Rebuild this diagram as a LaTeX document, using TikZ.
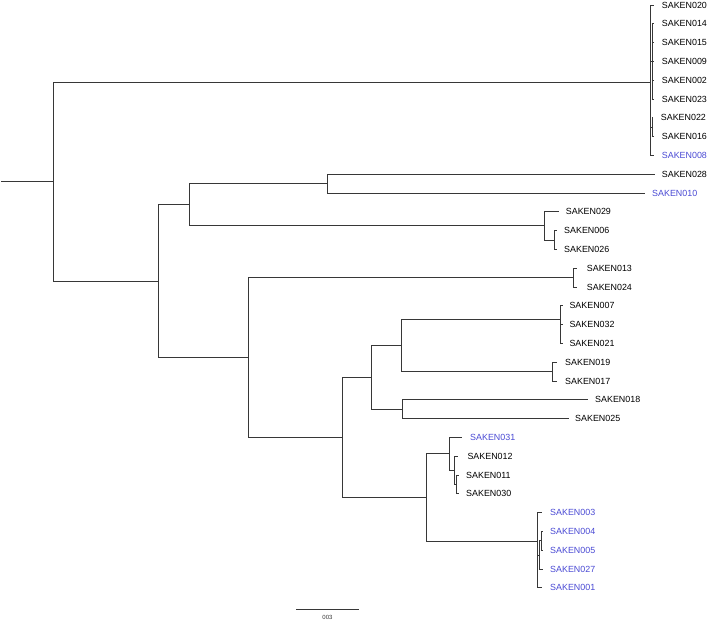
\documentclass[tikz,border=0pt]{standalone}
\usepackage{fontspec}
\setmainfont{Liberation Sans}
\definecolor{leafblue}{RGB}{74,74,212}
\definecolor{branch}{RGB}{55,55,55}
\begin{document}
\begin{tikzpicture}[x=1pt,y=-1pt,
  branchline/.style={draw=branch,line width=0.85pt},
  leaf/.style={anchor=west,inner sep=0pt,font=\fontsize{8.9}{10}\selectfont,text=black},
  blueleaf/.style={leaf,text=leafblue},
  scalelabel/.style={inner sep=0pt,font=\fontsize{6}{7}\selectfont,text=branch}]
\useasboundingbox (0,0) rectangle (709,622);

% ---------- leaf tips and labels ----------
\coordinate (t020) at (653.5,5.0);   \node[leaf] (l020) at (661.7,5.0)   {SAKEN020};
\coordinate (t014) at (653.5,23.8);  \node[leaf] (l014) at (661.7,23.8)  {SAKEN014};
\coordinate (t015) at (653.5,42.6);  \node[leaf] (l015) at (661.7,42.6)  {SAKEN015};
\coordinate (t009) at (653.5,61.4);  \node[leaf] (l009) at (661.7,61.4)  {SAKEN009};
\coordinate (t002) at (653.5,80.2);  \node[leaf] (l002) at (661.7,80.2)  {SAKEN002};
\coordinate (t023) at (653.5,99.0);  \node[leaf] (l023) at (661.7,99.0)  {SAKEN023};
\coordinate (t022) at (653.0,117.8); \node[leaf] (l022) at (660.7,117.8) {SAKEN022};
\coordinate (t016) at (653.5,136.6); \node[leaf] (l016) at (661.7,136.6) {SAKEN016};
\coordinate (t008) at (653.5,155.4); \node[blueleaf] (l008) at (661.7,155.4) {SAKEN008};
\coordinate (t028) at (655.0,174.2); \node[leaf] (l028) at (661.7,174.2) {SAKEN028};
\coordinate (t010) at (645.0,193.0); \node[blueleaf] (l010) at (652.0,193.0) {SAKEN010};
\coordinate (t029) at (559.3,211.8); \node[leaf] (l029) at (565.7,211.8) {SAKEN029};
\coordinate (t006) at (557.0,230.6); \node[leaf] (l006) at (564.0,230.6) {SAKEN006};
\coordinate (t026) at (557.0,249.4); \node[leaf] (l026) at (564.0,249.4) {SAKEN026};
\coordinate (t013) at (577.3,268.2); \node[leaf] (l013) at (586.7,268.2) {SAKEN013};
\coordinate (t024) at (577.3,287.0); \node[leaf] (l024) at (586.7,287.0) {SAKEN024};
\coordinate (t007) at (563.0,305.8); \node[leaf] (l007) at (569.3,305.8) {SAKEN007};
\coordinate (t032) at (563.0,324.6); \node[leaf] (l032) at (569.3,324.6) {SAKEN032};
\coordinate (t021) at (563.0,343.4); \node[leaf] (l021) at (569.3,343.4) {SAKEN021};
\coordinate (t019) at (556.7,362.2); \node[leaf] (l019) at (565.0,362.2) {SAKEN019};
\coordinate (t017) at (556.7,381.0); \node[leaf] (l017) at (565.0,381.0) {SAKEN017};
\coordinate (t018) at (588.3,399.8); \node[leaf] (l018) at (595.0,399.8) {SAKEN018};
\coordinate (t025) at (569.3,418.6); \node[leaf] (l025) at (575.0,418.6) {SAKEN025};
\coordinate (t031) at (461.7,437.4); \node[blueleaf] (l031) at (470.0,437.4) {SAKEN031};
\coordinate (t012) at (457.7,456.2); \node[leaf] (l012) at (467.3,456.2) {SAKEN012};
\coordinate (t011) at (458.5,475.0); \node[leaf] (l011) at (466.0,475.0) {SAKEN011};
\coordinate (t030) at (458.5,493.8); \node[leaf] (l030) at (466.0,493.8) {SAKEN030};
\coordinate (t003) at (541.5,512.6); \node[blueleaf] (l003) at (550.0,512.6) {SAKEN003};
\coordinate (t004) at (542.5,531.4); \node[blueleaf] (l004) at (550.0,531.4) {SAKEN004};
\coordinate (t005) at (542.5,550.2); \node[blueleaf] (l005) at (550.0,550.2) {SAKEN005};
\coordinate (t027) at (542.5,569.0); \node[blueleaf] (l027) at (550.0,569.0) {SAKEN027};
\coordinate (t001) at (541.5,587.8); \node[blueleaf] (l001) at (550.0,587.8) {SAKEN001};

% ---------- internal nodes ----------
\coordinate (root) at (1,181.9);
\coordinate (R)  at (53,181.9);
\coordinate (T)  at (650.7,82.7);
\coordinate (T1) at (652.0,61.4);
\coordinate (T2) at (652.0,127.2);
\coordinate (B)  at (158,281.1);
\coordinate (C)  at (189,204.6);
\coordinate (E)  at (327.3,183.3);
\coordinate (F)  at (544,225.9);
\coordinate (F2) at (554,240.0);
\coordinate (D)  at (248.3,357.6);
\coordinate (G)  at (573.3,277.6);
\coordinate (H)  at (342,437.5);
\coordinate (I)  at (371,377.3);
\coordinate (K)  at (401.5,345.5);
\coordinate (M)  at (560,319.3);
\coordinate (N)  at (552.7,371.6);
\coordinate (L)  at (402.5,409.2);
\coordinate (J)  at (426.5,497.8);
\coordinate (O)  at (449.3,453.9);
\coordinate (Q)  at (454.3,470.3);
\coordinate (Q2) at (456.0,484.4);
\coordinate (P)  at (537.3,541.7);
\coordinate (P2) at (539.0,555.0);
\coordinate (P3) at (541.5,540.8);

% ---------- branches ----------
\draw[branchline] (root) -- (R);
\draw[branchline] (R) |- (T);
\draw[branchline] (R) |- (B);
% top cluster
\draw[branchline] (T) |- (t020);
\draw[branchline] (T) |- (T1);
\draw[branchline] (T1) |- (t014);
\draw[branchline] (T1) |- (t015);
\draw[branchline] (T1) |- (t009);
\draw[branchline] (T1) |- (t002);
\draw[branchline] (T1) |- (t023);
\draw[branchline] (T) |- (T2);
\draw[branchline] (T2) |- (t022);
\draw[branchline] (T2) |- (t016);
\draw[branchline] (T) |- (t008);
% B
\draw[branchline] (B) |- (C);
\draw[branchline] (B) |- (D);
\draw[branchline] (C) |- (E);
\draw[branchline] (C) |- (F);
\draw[branchline] (E) |- (t028);
\draw[branchline] (E) |- (t010);
\draw[branchline] (F) |- (t029);
\draw[branchline] (F) |- (F2);
\draw[branchline] (F2) |- (t006);
\draw[branchline] (F2) |- (t026);
% D
\draw[branchline] (D) |- (G);
\draw[branchline] (D) |- (H);
\draw[branchline] (G) |- (t013);
\draw[branchline] (G) |- (t024);
\draw[branchline] (H) |- (I);
\draw[branchline] (H) |- (J);
\draw[branchline] (I) |- (K);
\draw[branchline] (I) |- (L);
\draw[branchline] (K) |- (M);
\draw[branchline] (K) |- (N);
\draw[branchline] (M) |- (t007);
\draw[branchline] (M) |- (t032);
\draw[branchline] (M) |- (t021);
\draw[branchline] (N) |- (t019);
\draw[branchline] (N) |- (t017);
\draw[branchline] (L) |- (t018);
\draw[branchline] (L) |- (t025);
\draw[branchline] (J) |- (O);
\draw[branchline] (J) |- (P);
\draw[branchline] (O) |- (t031);
\draw[branchline] (O) |- (Q);
\draw[branchline] (Q) |- (t012);
\draw[branchline] (Q) |- (Q2);
\draw[branchline] (Q2) |- (t011);
\draw[branchline] (Q2) |- (t030);
\draw[branchline] (P) |- (t003);
\draw[branchline] (P) |- (P2);
\draw[branchline] (P2) |- (P3);
\draw[branchline] (P3) |- (t004);
\draw[branchline] (P3) |- (t005);
\draw[branchline] (P2) |- (t027);
\draw[branchline] (P) |- (t001);

% ---------- scale bar ----------
\coordinate (sb1) at (296,609);
\coordinate (sb2) at (359,609);
\draw[branchline,line width=0.7pt] (sb1) -- (sb2);
\node[scalelabel] (sblabel) at (327.5,617.5) {003};
\end{tikzpicture}
\end{document}
